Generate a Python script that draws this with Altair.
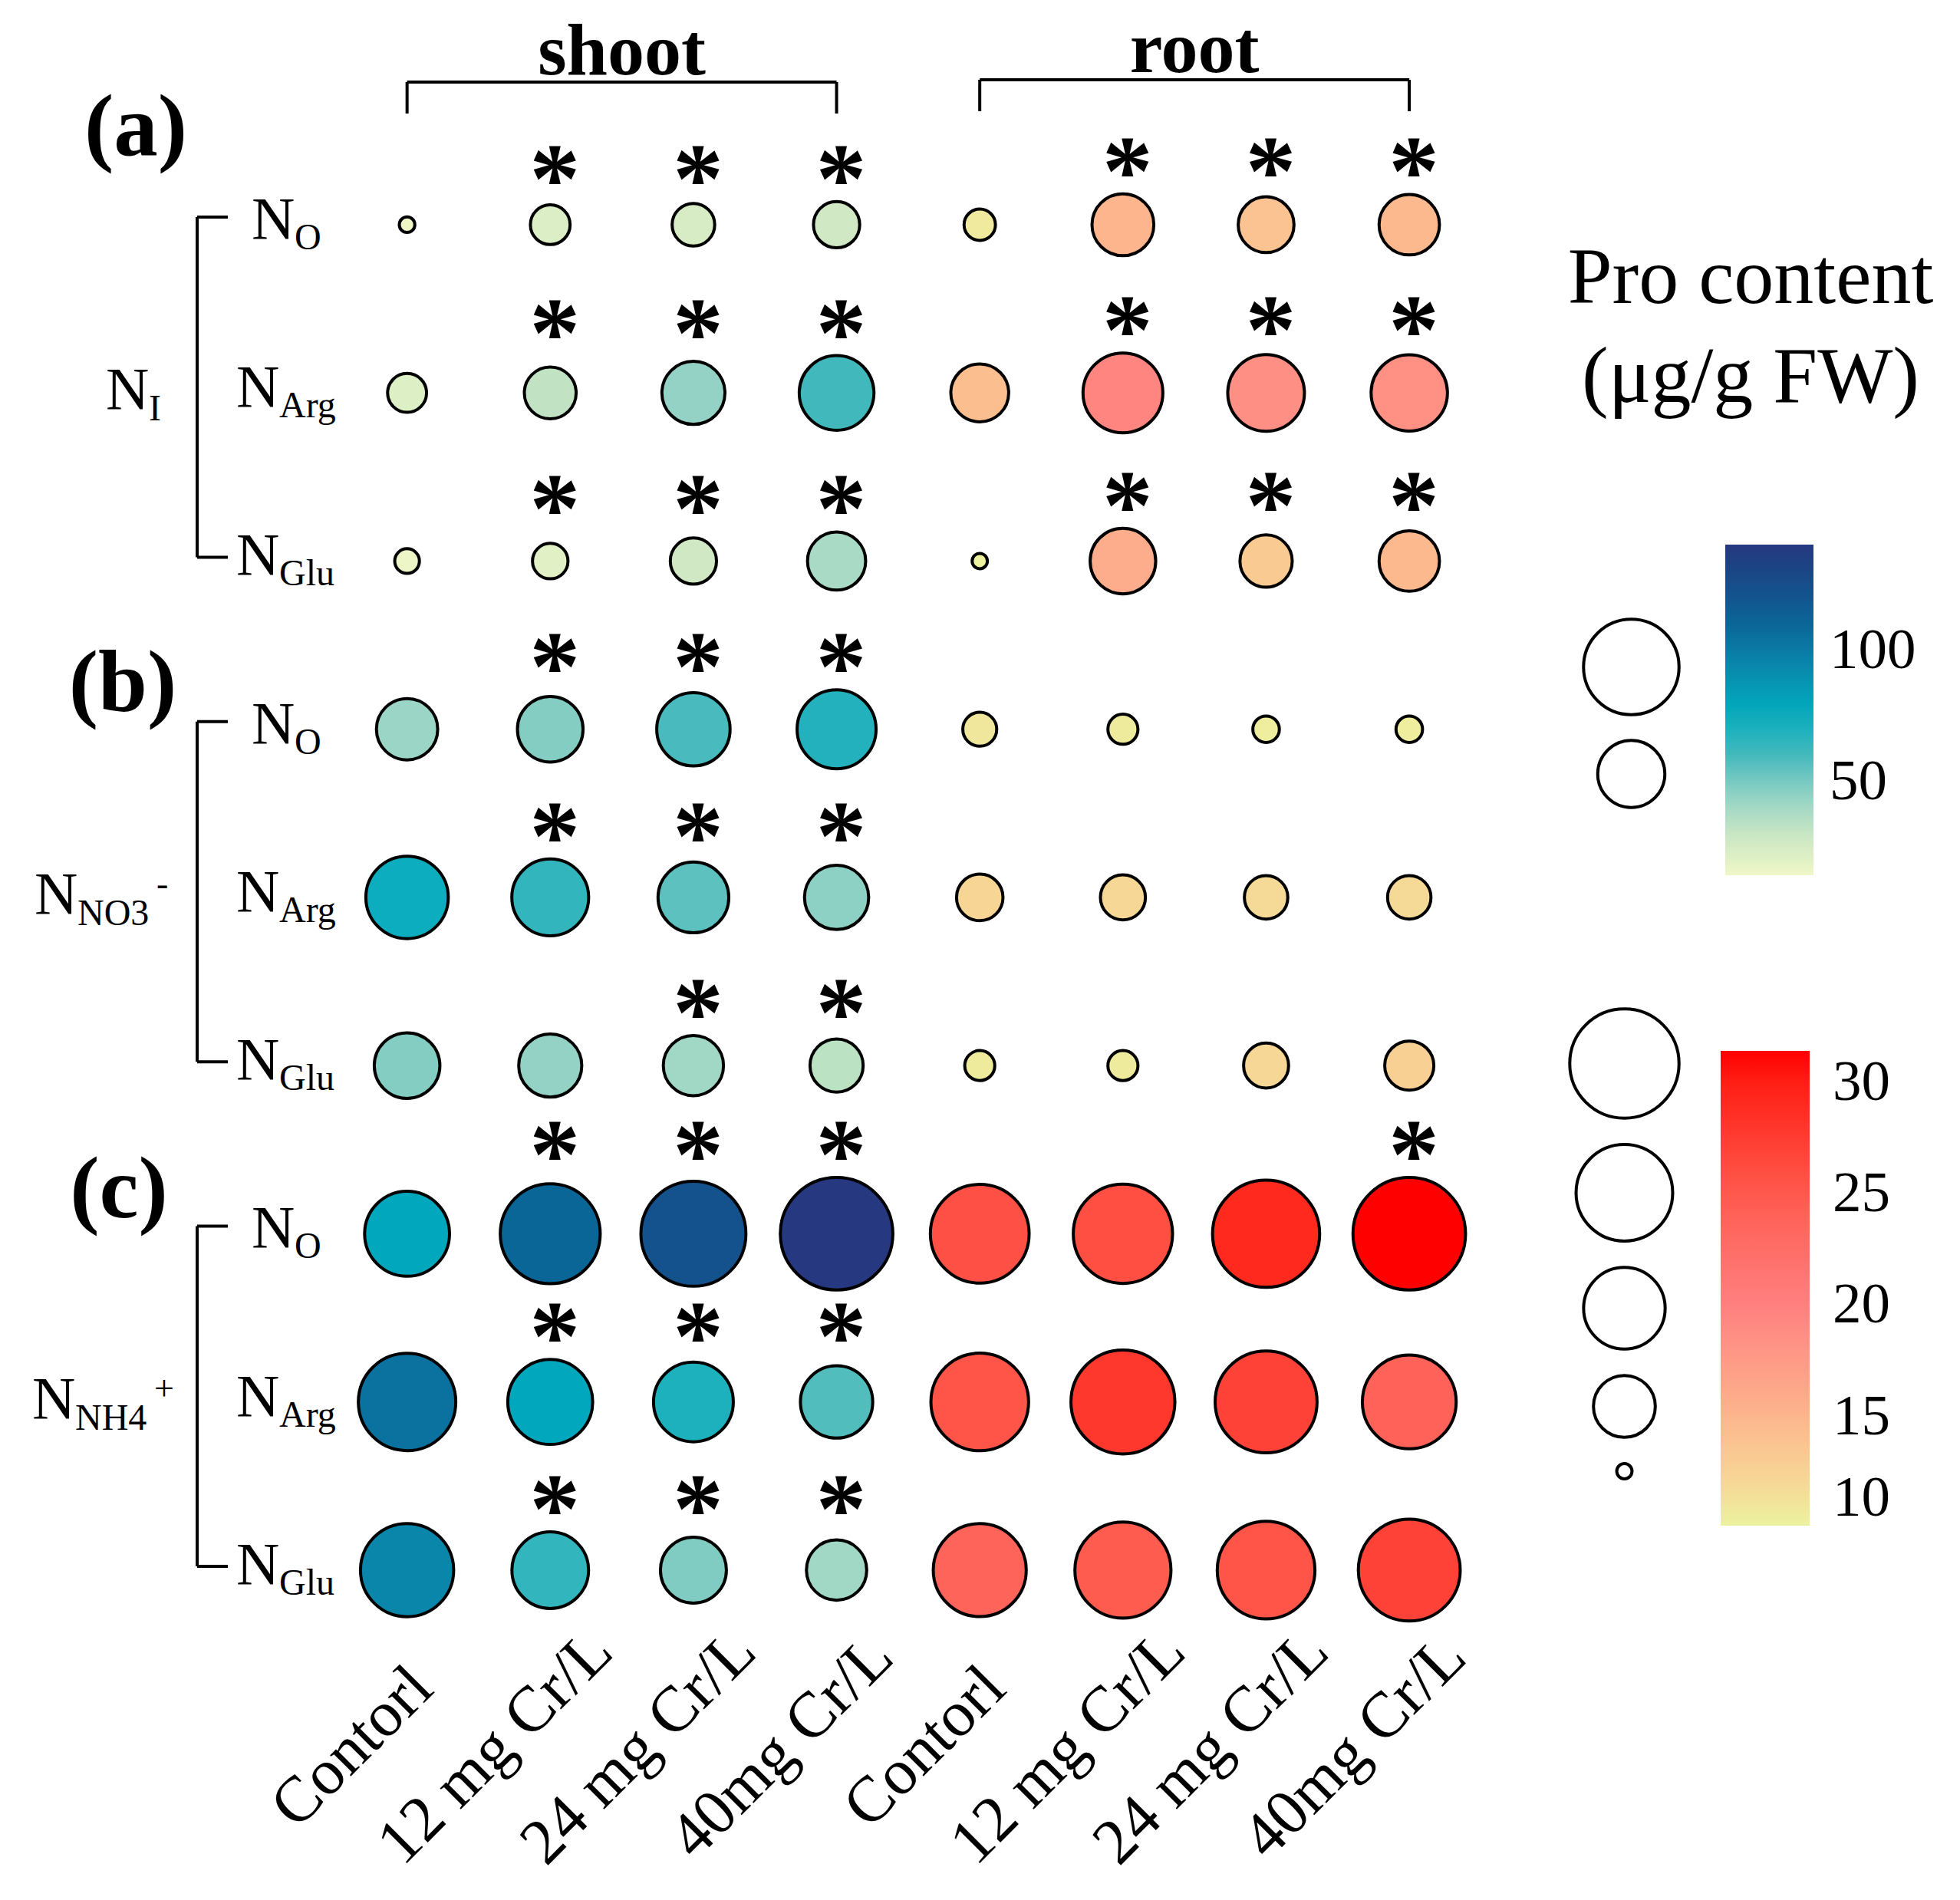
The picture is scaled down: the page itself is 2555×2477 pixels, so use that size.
import math
import altair as alt
import pandas as pd

# ---------------- data ----------------
treatments = ["Contorl", "12 mg Cr/L", "24 mg Cr/L", "40mg Cr/L"]
panels = ["(a)", "(b)", "(c)"]
source_sub = ["O", "Arg", "Glu"]          # N_O, N_Arg, N_Glu
group_sub = ["I", "NO3", "NH4"]           # N_I, N_NO3-, N_NH4+
group_sup = ["", "-", "+"]

# Pro content, shoot (rows: N_O, N_Arg, N_Glu; cols: treatments)
shoot_a = [[14.3, 22.2, 24.2, 26.9], [21.7, 32.0, 44.6, 61.2], [15.5, 19.7, 26.9, 38.7]]
shoot_b = [[42.4, 47.9, 59.1, 68.3], [74.3, 64.7, 55.3, 46.0], [47.9, 44.6, 41.1, 33.3]]
shoot_c = [[78.8, 109.8, 121.6, 140.4], [104.2, 78.8, 69.7, 57.5], [95.1, 64.4, 48.4, 41.2]]
# Pro content, root
root_a = [[10.7, 15.0, 13.8, 14.7], [14.2, 19.5, 18.6, 18.5], [10.1, 15.8, 13.2, 14.7]]
root_b = [[10.9, 10.6, 10.4, 10.4], [12.3, 12.1, 11.9, 11.9], [10.6, 10.6, 12.1, 12.7]]
root_c = [[25.8, 26.0, 29.1, 31.4], [25.4, 27.8, 27.0, 24.0], [23.7, 24.8, 25.4, 27.0]]
# significance marks (1 = "*")
shoot_star_a = [[0, 1, 1, 1], [0, 1, 1, 1], [0, 1, 1, 1]]
shoot_star_b = [[0, 1, 1, 1], [0, 1, 1, 1], [0, 0, 1, 1]]
shoot_star_c = [[0, 1, 1, 1], [0, 1, 1, 1], [0, 1, 1, 1]]
root_star_a = [[0, 1, 1, 1], [0, 1, 1, 1], [0, 1, 1, 1]]
root_star_b = [[0, 0, 0, 0], [0, 0, 0, 0], [0, 0, 0, 0]]
root_star_c = [[0, 0, 0, 1], [0, 0, 0, 0], [0, 0, 0, 0]]

shoot_legend_values = [100, 50]
root_legend_values = [30, 25, 20, 15, 10]

recs = []
for p, (S, R, sS, sR) in enumerate(zip([shoot_a, shoot_b, shoot_c], [root_a, root_b, root_c],
                                       [shoot_star_a, shoot_star_b, shoot_star_c],
                                       [root_star_a, root_star_b, root_star_c])):
    for r in range(3):
        for c in range(4):
            recs.append(dict(tissue="shoot", row=3 * p + r, col=c, value=S[r][c], star=sS[r][c]))
            recs.append(dict(tissue="root", row=3 * p + r, col=4 + c, value=R[r][c], star=sR[r][c]))
df = pd.DataFrame(recs)
shoot_df = df[df.tissue == "shoot"].reset_index(drop=True)
root_df = df[df.tissue == "root"].reset_index(drop=True)

# ---------------- layout ----------------
X0, Y0 = 428, 175            # plot origin on the page
W, H = 1508, 1980
XDOM = [-0.55, 7.53]
YDOM = [-0.538, 8.493]
ppx = W / (XDOM[1] - XDOM[0])
ppy = H / (YDOM[1] - YDOM[0])


def xd(px):
    return XDOM[0] + (px - X0) / ppx


def yd(py):
    return YDOM[0] + (py - Y0) / ppy


def rowpx(r):
    return Y0 + (r - YDOM[0]) * ppy


FONT = "Liberation Serif"
SW = 4  # circle stroke width

xs = alt.Scale(domain=XDOM, nice=False, zero=False)
ys = alt.Scale(domain=YDOM, nice=False, zero=False, reverse=True)

# ggplot-like area palette: diameter = d0 + (d1-d0)*sqrt(t), approximated piecewise
T_STOPS = [0, 0.005, 0.02, 0.05, 0.1, 0.17, 0.26, 0.37, 0.5, 0.65, 0.82, 1.0]
SIZE_D = {"shoot": (24.3, 150.7), "root": (23.9, 150.7)}   # outer diameters at min / max


def size_scale(values, d0, d1):
    vmin, vmax = min(values), max(values)
    dom = [vmin + t * (vmax - vmin) for t in T_STOPS]
    rng = [(d0 - SW + (d1 - d0) * math.sqrt(t)) ** 2 for t in T_STOPS]
    return alt.Scale(type="linear", domain=dom, range=rng, zero=False, nice=False, clamp=True)


def color_scale(values, stops, colors):
    vmin, vmax = min(values), max(values)
    return alt.Scale(type="linear", domain=[vmin + t * (vmax - vmin) for t in stops],
                     range=colors, interpolate="rgb", zero=False, nice=False)


shoot_vals = shoot_df["value"].tolist()
root_vals = root_df["value"].tolist()

SHOOT_T = [0, 0.125, 0.243, 0.362, 0.497, 0.64, 0.757, 0.876, 1.0]
SHOOT_C = ["#EFF7C6", "#C8E6C4", "#92D2C5", "#45B9BC", "#00ABBE", "#0A86AB", "#0B6698",
           "#154D89", "#253880"]
ROOT_T = [0, 0.09, 0.23, 0.465, 0.7, 0.934, 1.0]
ROOT_C = ["#ECF2A0", "#F6D896", "#FDB58D", "#FF8080", "#FF5A4E", "#FF1E14", "#FF0000"]

x_axis = alt.Axis(values=list(range(8)), grid=True, gridColor="#EBEBEB", gridWidth=5,
                  domain=False, ticks=False, labels=False, title=None)
y_axis = alt.Axis(values=list(range(9)), grid=True, gridColor="#EBEBEB", gridWidth=5,
                  labels=False, ticks=False, domain=False, title=None)

sym_legend = dict(orient="none", title=None, labelExpr="''", labelFontSize=1,
                  symbolType="circle", symbolFillColor="white", symbolStrokeColor="black",
                  symbolStrokeWidth=SW, symbolOpacity=1, padding=0)
grad_legend = dict(orient="none", direction="vertical", title=None, gradientStrokeWidth=0,
                   labelFont=FONT, labelFontSize=75, labelColor="black", padding=0)

shoot_layer = alt.Chart(shoot_df).mark_circle(opacity=1, stroke="black", strokeWidth=SW).encode(
    x=alt.X("col:Q", scale=xs, axis=x_axis),
    y=alt.Y("row:Q", scale=ys, axis=y_axis),
    color=alt.Color("value:Q", scale=color_scale(shoot_vals, SHOOT_T, SHOOT_C),
                    legend=alt.Legend(legendX=2249 - X0, legendY=710 - Y0, gradientLength=431,
                                      gradientThickness=115, values=[50, 100], labelOffset=21,
                                      **grad_legend)),
    size=alt.Size("value:Q", scale=size_scale(shoot_vals, *SIZE_D["shoot"]),
                  legend=alt.Legend(legendX=2062 - X0, legendY=805 - Y0,
                                    values=shoot_legend_values, rowPadding=17, **sym_legend)),
)

root_layer = alt.Chart(root_df).mark_circle(opacity=1, stroke="black", strokeWidth=SW).encode(
    x=alt.X("col:Q", scale=xs, axis=None),
    y=alt.Y("row:Q", scale=ys, axis=None),
    color=alt.Color("value:Q", scale=color_scale(root_vals, ROOT_T, ROOT_C),
                    legend=alt.Legend(legendX=2243 - X0, legendY=1370 - Y0, gradientLength=619,
                                      gradientThickness=116, values=[10, 15, 20, 25, 30],
                                      labelOffset=30, **grad_legend)),
    size=alt.Size("value:Q", scale=size_scale(root_vals, *SIZE_D["root"]),
                  legend=alt.Legend(legendX=2044 - X0, legendY=1313 - Y0,
                                    values=root_legend_values, rowPadding=18, **sym_legend)),
)

# stars: placed above the largest starred circle of each row (per tissue)
star_recs = []
for tissue, tdf in [("shoot", shoot_df), ("root", root_df)]:
    vals = tdf["value"]
    vmin, vmax = vals.min(), vals.max()
    d0, d1 = SIZE_D[tissue]
    st = tdf[tdf.star == 1]
    for row, g in st.groupby("row"):
        rmax = max((d0 + (d1 - d0) * math.sqrt((v - vmin) / (vmax - vmin))) / 2 for v in g["value"])
        cy = rowpx(row) - (rmax + 47) + 23
        for c in g["col"]:
            star_recs.append(dict(x=c, y=yd(cy)))
star_df = pd.DataFrame(star_recs)
star_layer = alt.Chart(star_df).mark_text(
    text="*", font=FONT, fontWeight="bold", fontSize=132, baseline="middle", align="center",
    dx=6, color="black"
).encode(x=alt.X("x:Q", scale=xs, axis=None), y=alt.Y("y:Q", scale=ys, axis=None))

# ---------------- annotations ----------------
N_main, N_sub, N_sup = [], [], []
for p in range(3):
    for r, sub in enumerate(source_sub):
        row = 3 * p + r
        left = 308 + (20 if sub == "O" else 0)
        N_main.append(dict(x=xd(left), y=yd(rowpx(row) + 18), t="N"))
        N_sub.append(dict(x=xd(left + 56), y=yd(rowpx(row) + 32), t=sub))
group_left = [138, 45, 42]
for g in range(3):
    mid = rowpx(3 * g + 1)
    left = group_left[g]
    N_main.append(dict(x=xd(left), y=yd(mid + 21), t="N"))
    N_sub.append(dict(x=xd(left + 56), y=yd(mid + 36), t=group_sub[g]))
    if group_sup[g]:
        sup_left = 204 if group_sup[g] == "-" else 201
        N_sup.append(dict(x=xd(sup_left), y=yd(mid - 3), t=group_sup[g]))


def text_layer(recs_, **kw):
    return alt.Chart(pd.DataFrame(recs_)).mark_text(font=FONT, color="black", **kw).encode(
        x=alt.X("x:Q", scale=xs, axis=None), y=alt.Y("y:Q", scale=ys, axis=None), text="t:N")


main_layer = text_layer(N_main, fontSize=78, align="left", baseline="alphabetic")
sub_layer = text_layer(N_sub, fontSize=48, align="left", baseline="alphabetic")
sup_layer = text_layer(N_sup, fontSize=46, align="left", baseline="alphabetic")

panel_recs = [dict(x=xd(177), y=yd(202), t=panels[0]), dict(x=xd(160), y=yd(927), t=panels[1]),
              dict(x=xd(155), y=yd(1587), t=panels[2])]
panel_layer = text_layer(panel_recs, fontSize=115, fontWeight="bold", align="center",
                         baseline="alphabetic")
tissue_recs = [dict(x=1.5, y=yd(97), t="shoot"), dict(x=5.5, y=yd(94), t="root")]
tissue_layer = text_layer(tissue_recs, fontSize=96, fontWeight="bold", align="center",
                          baseline="alphabetic")
title_recs = [dict(x=xd(2282), y=yd(395), t="Pro content"),
              dict(x=xd(2282), y=yd(524), t="(μg/g FW)")]
title_layer = text_layer(title_recs, fontSize=104, align="center", baseline="alphabetic")

# x tick labels (rotated 45°)
xlab_recs = [dict(x=c - 71 / ppx, y=yd(2278), t=lab) for c, lab in enumerate(treatments * 2)]
xlab_layer = text_layer(xlab_recs, fontSize=84, angle=315, align="center", baseline="middle")

seg = []
for g in range(3):
    top = rowpx(3 * g) - 10
    bot = rowpx(3 * g + 2) - 5
    seg.append(dict(x=xd(257), x2=xd(257), y=yd(top), y2=yd(bot)))
    seg.append(dict(x=xd(257), x2=xd(297), y=yd(top), y2=yd(top)))
    seg.append(dict(x=xd(257), x2=xd(297), y=yd(bot), y2=yd(bot)))
for c0, c1, ytop, ybot in [(0, 3, 107, 148), (4, 7, 104, 145)]:
    seg.append(dict(x=c0, x2=c1, y=yd(ytop), y2=yd(ytop)))
    seg.append(dict(x=c0, x2=c0, y=yd(ytop), y2=yd(ybot)))
    seg.append(dict(x=c1, x2=c1, y=yd(ytop), y2=yd(ybot)))
seg_layer = alt.Chart(pd.DataFrame(seg)).mark_rule(color="black", strokeWidth=4).encode(
    x=alt.X("x:Q", scale=xs, axis=None), x2="x2:Q",
    y=alt.Y("y:Q", scale=ys, axis=None), y2="y2:Q")

chart = alt.layer(
    shoot_layer, root_layer, star_layer, main_layer, sub_layer, sup_layer,
    panel_layer, tissue_layer, title_layer, xlab_layer, seg_layer
).resolve_scale(color="independent", size="independent").properties(
    width=W, height=H,
    autosize=alt.AutoSizeParams(type="none"),
    padding={"left": X0 - 8, "top": Y0 - 8, "right": 2555 - 16 - (X0 - 8) - W,
             "bottom": 2477 - 16 - (Y0 - 8) - H},
    background="white",
).configure_view(stroke=None)

chart.save("out.html", embed_options={"renderer": "svg", "actions": False})
